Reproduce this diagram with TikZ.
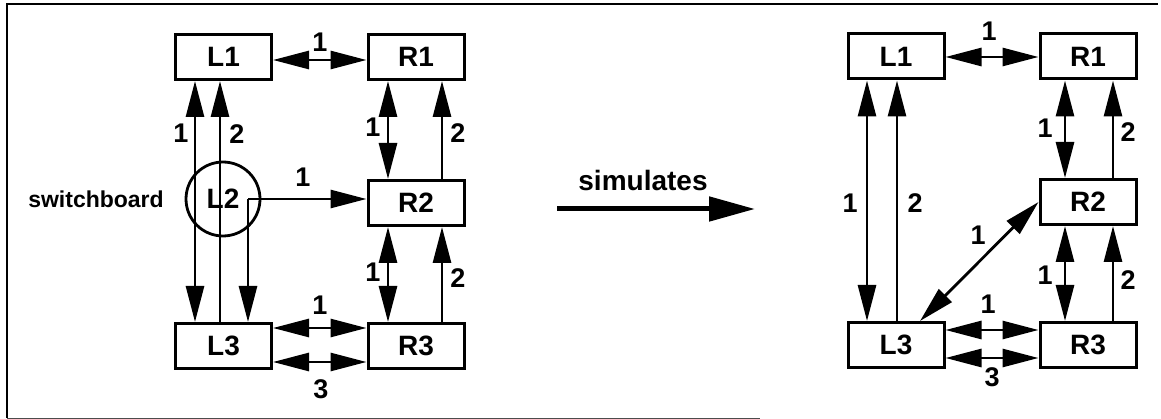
\documentclass[tikz,border=0pt]{standalone}
\usepackage{fontspec}
\setmainfont{Liberation Sans}
\usetikzlibrary{arrows.meta}
\tikzset{
  box/.style={draw, line width=3pt, minimum width=96pt, minimum height=45pt, inner sep=0pt,
    font=\fontsize{28}{28}\selectfont\bfseries},
  lbl/.style={inner sep=0pt, font=\fontsize{27}{27}\selectfont\bfseries},
  conn/.style={line width=2.8pt},
  tip/.tip={Triangle[length=36pt,width=18pt]},
  dbl/.style={conn, tip-tip},
  one/.style={conn, -tip},
  bigarrow/.style={line width=5pt, -{Triangle[length=46pt,width=24pt]}},
}
\begin{document}
\begin{tikzpicture}[x=1pt,y=-1pt]
\useasboundingbox (0,0) rectangle (1161,419);
% frame
\draw[line width=2pt] (7,418) -- (7,4) -- (1158,4);
\draw[line width=1pt, black!70] (7,418) -- (760,418);

% ---------------- left diagram ----------------
\node[box] (L1) at (223.5,57) {L1};
\node[box] (R1) at (416,57) {R1};
\node[box] (R2) at (416,203) {R2};
\node[box] (L3) at (223.5,346) {L3};
\node[box] (R3) at (416,346) {R3};
\node[draw, circle, line width=2.8pt, minimum size=74pt, inner sep=0pt,
      font=\fontsize{28}{28}\selectfont\bfseries] (L2) at (223,199) {L2};
\node[inner sep=0pt, font=\fontsize{23}{23}\selectfont\bfseries] (sb) at (96,199) {switchboard};

\coordinate (xa1) at (195,0);
\coordinate (xa2) at (220,0);
\coordinate (sw) at (248,199);
\coordinate (xr1) at (388,0);
\coordinate (xr2) at (442,0);
\coordinate (yh1) at (0,60);
\coordinate (yh3) at (0,328);
\coordinate (yh4) at (0,362);

\draw[dbl] (L1.south -| xa1) -- (L3.north -| xa1);
\draw[one] (L3.north -| xa2) -- (L1.south -| xa2);
\draw[one] (sw) -- (L3.north -| sw);
\draw[one] (sw) -- (R2.west |- sw);
\draw[dbl] (L1.east |- yh1) -- (R1.west |- yh1);
\draw[dbl] (R1.south -| xr1) -- (R2.north -| xr1);
\draw[one] (R2.north -| xr2) -- (R1.south -| xr2);
\draw[dbl] (R2.south -| xr1) -- (R3.north -| xr1);
\draw[one] (R3.north -| xr2) -- (R2.south -| xr2);
\draw[dbl] (L3.east |- yh3) -- (R3.west |- yh3);
\draw[dbl] (L3.east |- yh4) -- (R3.west |- yh4);

\node[lbl] (la) at (320,42) {1};
\node[lbl] (lb) at (181,133) {1};
\node[lbl] (lc) at (237,134) {2};
\node[lbl] (ld) at (303,177) {1};
\node[lbl] (le) at (373,127) {1};
\node[lbl] (lf) at (458,133) {2};
\node[lbl] (lg) at (373,272) {1};
\node[lbl] (lh) at (458,278) {2};
\node[lbl] (li) at (320,305) {1};
\node[lbl] (lj) at (321,389) {3};

% ---------------- simulates ----------------
\coordinate (sa) at (557,209);
\coordinate (se) at (755,209);
\draw[bigarrow] (sa) -- (se);
\node[inner sep=0pt, font=\fontsize{28}{28}\selectfont\bfseries] (sim) at (643,180) {simulates};

% ---------------- right diagram ----------------
\node[box] (L1r) at (896,56.5) {L1};
\node[box] (R1r) at (1088,56.5) {R1};
\node[box] (R2r) at (1088,202) {R2};
\node[box] (L3r) at (896,345) {L3};
\node[box] (R3r) at (1088,345) {R3};

\coordinate (xb1) at (867,0);
\coordinate (xb2) at (897,0);
\coordinate (xd) at (920,0);
\coordinate (xs1) at (1065,0);
\coordinate (xs2) at (1113,0);
\coordinate (yg1) at (0,57);
\coordinate (yg3) at (0,330);
\coordinate (yg4) at (0,358);

\draw[dbl] (L1r.south -| xb1) -- (L3r.north -| xb1);
\draw[one] (L3r.north -| xb2) -- (L1r.south -| xb2);
\draw[dbl] (L3r.north -| xd) -- (R2r.west);
\draw[dbl] (L1r.east |- yg1) -- (R1r.west |- yg1);
\draw[dbl] (R1r.south -| xs1) -- (R2r.north -| xs1);
\draw[one] (R2r.north -| xs2) -- (R1r.south -| xs2);
\draw[dbl] (R2r.south -| xs1) -- (R3r.north -| xs1);
\draw[one] (R3r.north -| xs2) -- (R2r.south -| xs2);
\draw[dbl] (L3r.east |- yg3) -- (R3r.west |- yg3);
\draw[dbl] (L3r.east |- yg4) -- (R3r.west |- yg4);

\node[lbl] (ra) at (989,31) {1};
\node[lbl] (rb) at (850,203) {1};
\node[lbl] (rc) at (915,203) {2};
\node[lbl] (rd) at (978,235) {1};
\node[lbl] (re) at (1045,128) {1};
\node[lbl] (rf) at (1128,132) {2};
\node[lbl] (rg) at (1045,275) {1};
\node[lbl] (rh) at (1128,280) {2};
\node[lbl] (ri) at (988,304) {1};
\node[lbl] (rj) at (992,377) {3};
\end{tikzpicture}
\end{document}
